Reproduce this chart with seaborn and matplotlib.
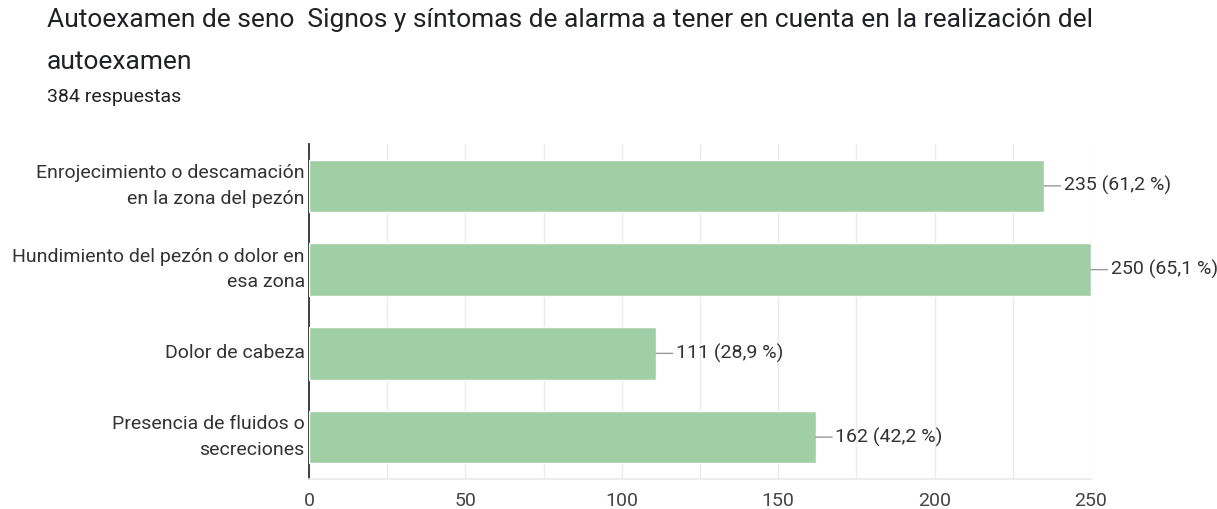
import matplotlib
matplotlib.use("Agg")
import matplotlib.pyplot as plt
import seaborn as sns
import pandas as pd

categories = ["Enrojecimiento o descamación\nen la zona del pezón",
              "Hundimiento del pezón o dolor en\nesa zona",
              "Dolor de cabeza",
              "Presencia de fluidos o\nsecreciones"]
counts = [235, 250, 111, 162]
labels = ["235 (61,2 %)", "250 (65,1 %)", "111 (28,9 %)", "162 (42,2 %)"]
title = "Autoexamen de seno  Signos y síntomas de alarma a tener en cuenta en la realización del\nautoexamen"
subtitle = "384 respuestas"

sns.set_theme(style="white")
plt.rcParams['font.family'] = ['Roboto', 'DejaVu Sans']

df = pd.DataFrame({"cat": categories, "n": counts})
fig = plt.figure(figsize=(12.17, 5.09), dpi=100)
ax = fig.add_axes([309/1217, 1-479/509, (1091-309)/1217, (479-144)/509])
sns.barplot(data=df, y="cat", x="n", orient="h", color="#a1cfa5", width=0.625,
            saturation=1, ax=ax, zorder=3)
ax.set_xlim(0, 250)
ax.set_ylim(3.5, -0.5)
ax.set_xticks([0, 50, 100, 150, 200, 250])
ax.set_xticks([25, 75, 125, 175, 225], minor=True)
ax.grid(True, axis="x", which="both", color="#ebebeb", linewidth=1, zorder=0)
ax.set_xlabel("")
ax.set_ylabel("")
for s in ["top", "right"]:
    ax.spines[s].set_visible(False)
ax.spines["bottom"].set_color("#ebebeb")
ax.spines["left"].set_color("#333333")
ax.spines["left"].set_linewidth(1.3)
ax.tick_params(axis="x", which="both", length=0, pad=9, labelsize=14, labelcolor="#444444")
ax.tick_params(axis="y", length=0, pad=3, labelsize=14, labelcolor="#333333")
for lbl in ax.get_yticklabels():
    lbl.set_horizontalalignment("right")
    lbl.set_multialignment("right")
    lbl.set_verticalalignment("center")
    lbl.set_linespacing(1.55)

for i, (v, t) in enumerate(zip(counts, labels)):
    ax.annotate(t, xy=(v, i), xytext=(v + 6.3, i), va="center", ha="left",
                fontsize=14, color="#333333", annotation_clip=False,
                arrowprops=dict(arrowstyle="-", color="#999999", lw=1,
                                shrinkA=0, shrinkB=0))

fig.text(47/1217, 1-8/509, title, ha="left", va="top", fontsize=19,
         color="#202124", linespacing=1.95)
fig.text(47/1217, 1-88/509, subtitle, ha="left", va="top", fontsize=14,
         color="#202124")

fig.savefig("out.png", dpi=100)
